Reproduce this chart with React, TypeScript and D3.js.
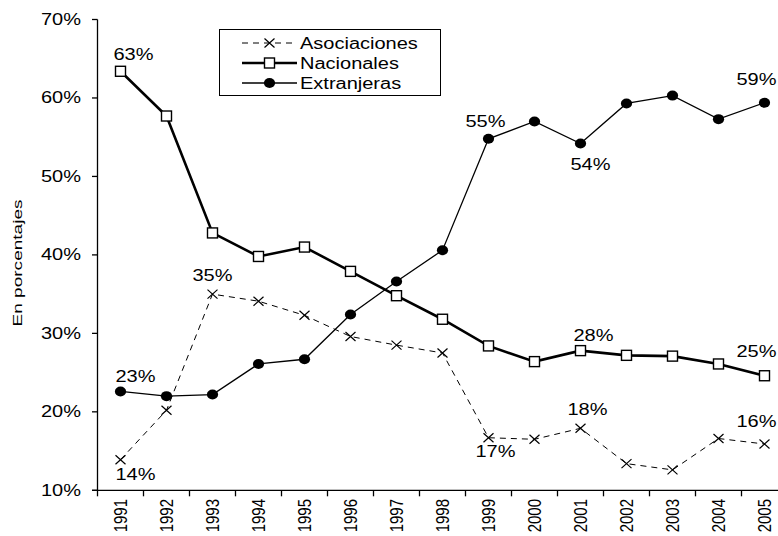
import React, { useEffect, useRef } from 'react'
import * as d3 from 'd3'

const years = ['1991', '1992', '1993', '1994', '1995', '1996', '1997', '1998', '1999', '2000', '2001', '2002', '2003', '2004', '2005']
const asociaciones = [13.9, 20.2, 35.0, 34.1, 32.3, 29.6, 28.5, 27.5, 16.7, 16.5, 17.9, 13.4, 12.6, 16.6, 15.9]
const nacionales = [63.4, 57.7, 42.8, 39.8, 41.0, 37.9, 34.8, 31.8, 28.4, 26.4, 27.8, 27.2, 27.1, 26.1, 24.6]
const extranjeras = [22.6, 22.0, 22.2, 26.1, 26.7, 32.4, 36.6, 40.6, 54.8, 57.0, 54.2, 59.3, 60.3, 57.3, 59.4]
const yTicks = [10, 20, 30, 40, 50, 60, 70]
const seriesNames = ['Asociaciones', 'Nacionales', 'Extranjeras']

// which points carry a value label
const annotations = [
  { series: 'Nacionales', year: '1991' },
  { series: 'Nacionales', year: '2001' },
  { series: 'Nacionales', year: '2005' },
  { series: 'Extranjeras', year: '1991' },
  { series: 'Extranjeras', year: '1999' },
  { series: 'Extranjeras', year: '2001' },
  { series: 'Extranjeras', year: '2005' },
  { series: 'Asociaciones', year: '1991' },
  { series: 'Asociaciones', year: '1993' },
  { series: 'Asociaciones', year: '1999' },
  { series: 'Asociaciones', year: '2001' },
  { series: 'Asociaciones', year: '2005' },
]

// label offsets from the point (layout only)
const nudge: Record<string, [number, number]> = {
  'Nacionales1991': [13, -11], 'Nacionales2001': [13, -10], 'Nacionales2005': [-8, -19],
  'Extranjeras1991': [15, -9], 'Extranjeras1999': [-3, -12], 'Extranjeras2001': [10, 27], 'Extranjeras2005': [-8, -18],
  'Asociaciones1991': [15, 20], 'Asociaciones1993': [0, -13], 'Asociaciones1999': [7, 19],
  'Asociaciones2001': [7, -13], 'Asociaciones2005': [-8, -17],
}

const W = 778, H = 536
const SX = 1.25 // the original picture is stretched horizontally
const FONT = 'Liberation Sans, Arial, sans-serif'

function App() {
  const ref = useRef<SVGSVGElement>(null)

  useEffect(() => {
    const svg = d3.select(ref.current)
    svg.selectAll('*').remove()

    const x = d3.scaleBand().domain(years).range([97.5, 97.5 + 46 * years.length]).padding(0)
    const y = d3.scaleLinear().domain([10, 70]).range([490.3, 19.5])
    const cx = (yr: string) => (x(yr) as number) + x.bandwidth() / 2

    const text = (g: any, tx: number, ty: number, s: string, anchor: string, size = 16) =>
      g.append('text')
        .attr('transform', `translate(${tx},${ty}) scale(${SX},1)`)
        .attr('text-anchor', anchor)
        .attr('font-family', FONT)
        .attr('font-size', size)
        .attr('fill', '#000')
        .text(s)

    // axes
    const axis = svg.append('g').attr('stroke', '#000').attr('stroke-width', 1.3)
    axis.append('line').attr('x1', 97.5).attr('x2', 97.5).attr('y1', y(70)).attr('y2', y(10))
    axis.append('line').attr('x1', 92).attr('x2', W + 10).attr('y1', y(10)).attr('y2', y(10))
    yTicks.forEach(t => {
      axis.append('line').attr('x1', 92).attr('x2', 97.5).attr('y1', y(t)).attr('y2', y(t))
      text(svg, 81, y(t) + 5.5, `${t}%`, 'end')
    })
    years.forEach(yr => {
      const x0 = x(yr) as number
      axis.append('line').attr('x1', x0).attr('x2', x0).attr('y1', y(10)).attr('y2', y(10) + 6)
      svg.append('text')
        .attr('transform', `translate(${cx(yr)},499) scale(${SX},1) rotate(-90)`)
        .attr('text-anchor', 'end')
        .attr('dy', '0.35em')
        .attr('font-family', FONT)
        .attr('font-size', 15)
        .text(yr)
    })

    svg.append('text')
      .attr('transform', 'translate(18,263) rotate(-90)')
      .attr('text-anchor', 'middle')
      .attr('dy', '0.35em')
      .attr('font-family', FONT)
      .attr('font-size', 12)
      .attr('textLength', 127)
      .attr('lengthAdjust', 'spacingAndGlyphs')
      .text('En porcentajes')

    const line = d3.line<number>().x((d, i) => cx(years[i])).y(d => y(d))

    const cross = (g: any, px: number, py: number) => {
      g.append('path')
        .attr('d', `M${px - 5},${py - 4.5}L${px + 5},${py + 4.5}M${px - 5},${py + 4.5}L${px + 5},${py - 4.5}`)
        .attr('stroke', '#000').attr('stroke-width', 1.2).attr('fill', 'none')
    }
    const square = (g: any, px: number, py: number) => {
      g.append('rect').attr('x', px - 5).attr('y', py - 5).attr('width', 10).attr('height', 10)
        .attr('fill', '#fff').attr('stroke', '#000').attr('stroke-width', 1.4)
    }
    const dot = (g: any, px: number, py: number) => {
      g.append('ellipse').attr('cx', px).attr('cy', py).attr('rx', 5.6).attr('ry', 5).attr('fill', '#000')
    }

    const styles: Record<string, any> = {
      Asociaciones: { data: asociaciones, width: 1, dash: '6,5', marker: cross },
      Nacionales: { data: nacionales, width: 2.6, dash: null, marker: square },
      Extranjeras: { data: extranjeras, width: 1.3, dash: null, marker: dot },
    }

    const plot = svg.append('g')
    seriesNames.forEach(name => {
      const s = styles[name]
      plot.append('path')
        .datum(s.data)
        .attr('d', line)
        .attr('fill', 'none')
        .attr('stroke', '#000')
        .attr('stroke-width', s.width)
        .attr('stroke-dasharray', s.dash)
    })
    seriesNames.forEach(name => {
      const s = styles[name]
      s.data.forEach((v: number, i: number) => s.marker(plot, cx(years[i]), y(v)))
    })

    annotations.forEach(a => {
      const v = styles[a.series].data[years.indexOf(a.year)]
      const [dx, dy] = nudge[a.series + a.year] || [0, -12]
      text(svg, cx(a.year) + dx, y(v) + dy, `${Math.round(v)}%`, 'middle')
    })

    // legend
    const lg = svg.append('g')
    lg.append('rect').attr('x', 219.5).attr('y', 29.5).attr('width', 221).attr('height', 66)
      .attr('fill', '#fff').attr('stroke', '#000').attr('stroke-width', 1)
    seriesNames.forEach((name, i) => {
      const s = styles[name]
      const ly = 43 + i * 20
      lg.append('line').attr('x1', 242).attr('x2', 297).attr('y1', ly).attr('y2', ly)
        .attr('stroke', '#000').attr('stroke-width', s.width).attr('stroke-dasharray', s.dash)
      s.marker(lg, 269.5, ly)
      text(lg, 300, ly + 6, name, 'start')
    })
  }, [])

  return (
    <svg ref={ref} width={W} height={H}
      style={{ position: 'absolute', left: 0, top: 0, background: '#fff', overflow: 'hidden' }} />
  )
}

export default App
